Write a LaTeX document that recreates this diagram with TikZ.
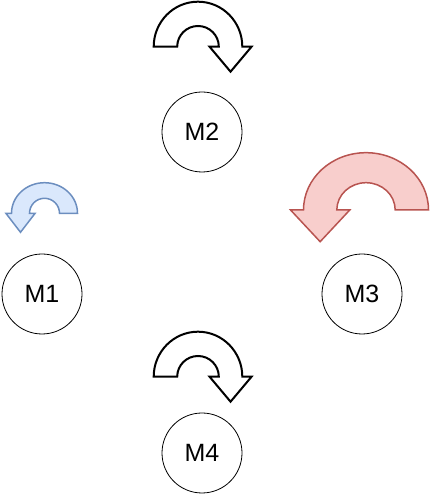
\documentclass[tikz,border=0pt]{standalone}
\usepackage{fontspec}
\setmainfont{Liberation Sans}
\usepackage{xcolor}
\usetikzlibrary{positioning}

\definecolor{blueFill}{HTML}{DAE8FC}
\definecolor{blueLine}{HTML}{6C8EBF}
\definecolor{redFill}{HTML}{F8CECC}
\definecolor{redLine}{HTML}{B85450}

% u-turn arrow: options, outer rx/ry, inner rx/ry, head half width, head length
\newcommand{\uturn}[7][]{%
  \draw[#1] (-#2,0) arc[start angle=180, end angle=0, x radius=#2, y radius=#3]
    -- ({(#2+#4)/2+#6},0) -- ({(#2+#4)/2},-#7) -- ({(#2+#4)/2-#6},0)
    -- (#4,0) arc[start angle=0, end angle=180, x radius=#4, y radius=#5] -- cycle;}

\begin{document}
\begin{tikzpicture}[
    x=1pt, y=1pt,
    font=\fontsize{25}{30}\selectfont,
    motor/.style={circle, draw=black, line width=0.8pt, fill=white,
                  minimum size=80pt, inner sep=0pt},
    turn/.style={draw=black, fill=white, line width=2pt},
    turnblue/.style={draw=blueLine, fill=blueFill, line width=1.5pt},
    turnred/.style={draw=redLine, fill=redFill, line width=1.5pt}
  ]
  \useasboundingbox (0,0) rectangle (434,494);

  \node[motor] (m2) at (202,362) {M2};
  \node[motor] (m1) at (42,200)  {M1};
  \node[motor] (m3) at (362,200) {M3};
  \node[motor] (m4) at (202,41)  {M4};

  % rotation arrows
  \uturn[turn, shift={(198,447.3)}]{44.3}{45}{20.8}{20.7}{21}{25}
  \uturn[turn, shift={(198,117.3)}]{44.3}{45}{20.8}{20.7}{21}{25}
  \uturn[turnblue, shift={(44.5,280.7)}, xscale=-1]{33}{30.6}{15}{15}{14.6}{19}
  \uturn[turnred, shift={(366,284)}, xscale=-1]{62.5}{57.3}{29.2}{27.3}{29.6}{31.7}

\end{tikzpicture}
\end{document}
